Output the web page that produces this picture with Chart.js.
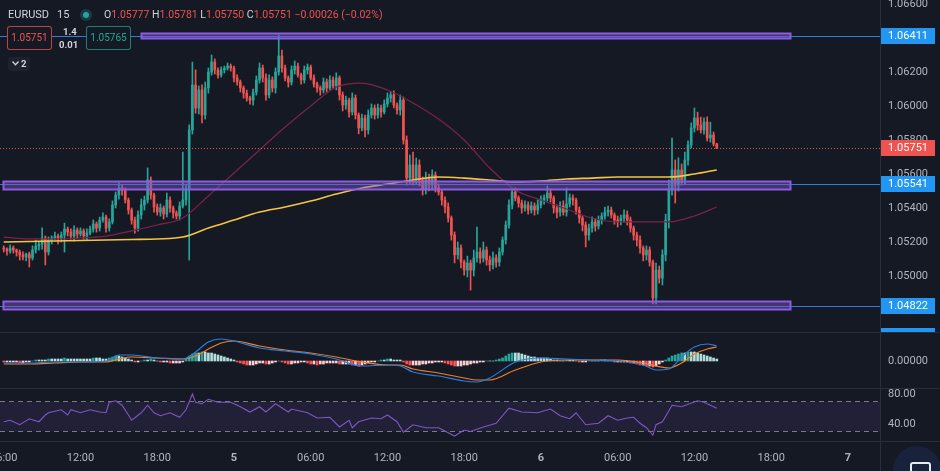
<!DOCTYPE html>
<html>
<head>
<meta charset="utf-8">
<script src="https://cdn.jsdelivr.net/npm/chart.js@4.4.1/dist/chart.umd.min.js"></script>
<style>
  html, body { margin:0; padding:0; background:#151924; }
  body { width:940px; height:471px; position:relative; overflow:hidden; font-family: Roboto, "Liberation Sans", "DejaVu Sans", sans-serif; }
  canvas { position:absolute; left:0; }
  .hl { position:absolute; left:0; width:940px; height:1px; background:#2a2e39; z-index:3; }
  .vl { position:absolute; left:880px; top:0; width:1px; height:471px; background:#2a2e39; z-index:3; }
  .t { position:absolute; font-size:10.5px; color:#d1d4dc; white-space:nowrap; line-height:14px; z-index:5; }
  .g { color:#d1d4dc; }
  .r { color:#ef5350; }
  .box { position:absolute; z-index:5; box-sizing:border-box; border-radius:3px; font-size:10px; text-align:center; line-height:21px; background:#151924; }
</style>
</head>
<body>
<canvas id="cMain" width="940" height="332" style="top:0"></canvas>
<canvas id="cMacd" width="940" height="55" style="top:333px"></canvas>
<canvas id="cRsi" width="940" height="83" style="top:388px"></canvas>

<div class="hl" style="top:332px"></div>
<div class="hl" style="top:388px"></div>
<div class="hl" style="top:441px"></div>
<div class="vl"></div>

<span class="t" style="left:8px;top:8px;font-size:11px">EURUSD</span>
<span class="t" style="left:57px;top:8px;font-size:11px">15</span>
<span style="position:absolute;left:80px;top:9px;width:12px;height:12px;border-radius:50%;background:rgba(38,166,154,0.25);z-index:5"></span>
<span style="position:absolute;left:83px;top:12px;width:6px;height:6px;border-radius:50%;background:#26a69a;z-index:6"></span>
<span class="t" style="left:104px;top:8px"><span class="g">O</span><span class="r">1.05777</span>&nbsp;<span class="g">H</span><span class="r">1.05781</span>&nbsp;<span class="g">L</span><span class="r">1.05750</span>&nbsp;<span class="g">C</span><span class="r">1.05751</span>&nbsp;<span class="r">−0.00026 (−0.02%)</span></span>

<div class="box" style="left:7px;top:26px;width:45px;height:24px;border:1px solid rgba(239,83,80,0.75);color:#ef5350">1.05751</div>
<span class="t" style="left:63px;top:25px;font-size:9.5px;font-weight:bold">1.4</span>
<span class="t" style="left:59px;top:38px;font-size:9.5px;font-weight:bold">0.01</span>
<div class="box" style="left:86px;top:26px;width:45px;height:24px;border:1px solid rgba(38,166,154,0.7);color:#26a69a">1.05765</div>
<div class="box" style="left:8px;top:57px;width:22px;height:14px;line-height:14px;background:#1e222d;color:#d1d4dc;font-weight:bold;font-size:9.5px">
  <svg width="7" height="5" viewBox="0 0 7 5" style="vertical-align:1px"><polyline points="0.5,0.5 3.5,3.8 6.5,0.5" fill="none" stroke="#d1d4dc" stroke-width="1.3"/></svg> 2
</div>

<div style="position:absolute;left:893px;top:446px;width:48px;height:48px;border-radius:50%;background:#18223a;z-index:6"></div>
<div style="position:absolute;left:910px;top:462px;width:17px;height:17px;border:2px solid #e8eaf0;border-radius:3px;z-index:7"></div>

<script>
// ---------------- DATA ----------------
// 15-minute candles, first candle at 06:00 of day 4 (hours counted from day 4 00:00)
const candleStartHour = 6;
const candleStepHour = 0.25;
const firstOpen = 1.05165;
const closes = [
  1.05159,1.05147,1.05165,1.05153,1.05141,1.05124,1.05112,1.05129,1.05106,1.05153,
  1.05176,1.05188,1.05224,1.05141,1.05212,1.05224,1.05235,1.05218,1.05241,1.05276,
  1.05259,1.05235,1.05271,1.05247,1.05265,1.05235,1.05253,1.05276,1.05306,1.05282,
  1.05329,1.05347,1.05282,1.05318,1.05418,1.05476,1.05518,1.05506,1.05447,1.05388,
  1.05329,1.05282,1.05359,1.05418,1.05447,1.05565,1.05476,1.05406,1.05376,1.05400,
  1.05365,1.05447,1.05400,1.05371,1.05353,1.05412,1.05447,1.05506,1.05859,1.06123,
  1.05988,1.06094,1.05947,1.06106,1.06200,1.06259,1.06212,1.06182,1.06212,1.06223,
  1.06235,1.06223,1.06165,1.06141,1.06106,1.06076,1.06047,1.06035,1.06082,1.06153,
  1.06223,1.06165,1.06065,1.06153,1.06106,1.06200,1.06294,1.06223,1.06165,1.06141,
  1.06212,1.06235,1.06182,1.06153,1.06212,1.06229,1.06165,1.06129,1.06106,1.06094,
  1.06141,1.06106,1.06153,1.06118,1.06165,1.06065,1.06006,1.06035,1.05965,1.06047,
  1.05947,1.05871,1.05929,1.05859,1.05947,1.05988,1.05947,1.05988,1.05965,1.06012,
  1.06047,1.06065,1.06006,1.05976,1.06035,1.05800,1.05576,1.05653,1.05565,1.05653,
  1.05565,1.05506,1.05576,1.05535,1.05594,1.05518,1.05494,1.05447,1.05406,1.05341,
  1.05241,1.05124,1.05165,1.05082,1.05035,1.05076,1.05035,1.05106,1.05141,1.05106,
  1.05153,1.05094,1.05065,1.05106,1.05082,1.05141,1.05212,1.05300,1.05418,1.05494,
  1.05459,1.05429,1.05400,1.05418,1.05388,1.05412,1.05388,1.05418,1.05447,1.05459,
  1.05488,1.05459,1.05400,1.05376,1.05412,1.05376,1.05424,1.05459,1.05447,1.05388,
  1.05341,1.05300,1.05241,1.05282,1.05318,1.05294,1.05329,1.05353,1.05376,1.05388,
  1.05359,1.05329,1.05318,1.05341,1.05359,1.05329,1.05282,1.05241,1.05212,1.05165,
  1.05124,1.05153,1.05082,1.04871,1.05035,1.04988,1.05124,1.05329,1.05506,1.05624,
  1.05535,1.05624,1.05565,1.05682,1.05771,1.05871,1.05929,1.05888,1.05859,1.05906,
  1.05812,1.05829,1.05777,1.05751
];
// wick lengths above the body / below the body (price units)
const wickUp = [
  .00012,.00006,.00018,.00012,.00006,.00012,.00018,.00006,.00012,.00024,
  .00035,.00018,.00059,.00012,.00018,.00012,.00024,.00012,.00018,.00035,
  .00012,.00018,.00024,.00012,.00018,.00012,.00024,.00018,.00024,.00012,
  .00018,.00024,.00012,.00018,.00024,.00018,.00030,.00018,.00012,.00012,
  .00012,.00018,.00024,.00035,.00024,.00071,.00018,.00012,.00018,.00024,
  .00012,.00041,.00018,.00012,.00012,.00024,.00282,.00035,.00030,.00135,
  .00090,.00024,.00030,.00035,.00024,.00041,.00018,.00012,.00018,.00012,
  .00018,.00012,.00012,.00018,.00012,.00012,.00018,.00012,.00018,.00024,
  .00030,.00018,.00024,.00030,.00018,.00024,.00124,.00035,.00018,.00012,
  .00024,.00030,.00018,.00012,.00024,.00018,.00012,.00018,.00012,.00012,
  .00024,.00018,.00024,.00018,.00030,.00012,.00018,.00024,.00012,.00030,
  .00018,.00012,.00024,.00018,.00030,.00024,.00018,.00024,.00018,.00024,
  .00030,.00018,.00024,.00012,.00030,.00018,.00024,.00059,.00076,.00041,
  .00030,.00018,.00035,.00024,.00030,.00018,.00024,.00012,.00018,.00024,
  .00012,.00018,.00035,.00018,.00012,.00041,.00018,.00047,.00147,.00024,
  .00047,.00018,.00024,.00035,.00018,.00024,.00018,.00024,.00030,.00018,
  .00024,.00012,.00018,.00024,.00018,.00024,.00018,.00030,.00024,.00018,
  .00041,.00024,.00012,.00018,.00024,.00030,.00094,.00024,.00018,.00012,
  .00018,.00012,.00018,.00024,.00030,.00018,.00024,.00018,.00030,.00024,
  .00018,.00012,.00024,.00018,.00030,.00024,.00018,.00012,.00018,.00024,
  .00012,.00024,.00018,.00012,.00041,.00024,.00030,.00035,.00059,.00188,
  .00059,.00071,.00035,.00047,.00024,.00030,.00059,.00035,.00047,.00024,
  .00030,.00076,.00018,.00004
];
const wickDn = [
  .00018,.00024,.00012,.00018,.00024,.00030,.00018,.00024,.00053,.00012,
  .00018,.00024,.00030,.00076,.00018,.00024,.00012,.00030,.00018,.00100,
  .00024,.00018,.00030,.00024,.00012,.00018,.00024,.00012,.00018,.00024,
  .00018,.00012,.00024,.00018,.00012,.00018,.00024,.00030,.00018,.00024,
  .00024,.00030,.00018,.00024,.00030,.00018,.00024,.00030,.00018,.00024,
  .00030,.00018,.00024,.00030,.00018,.00024,.00012,.00030,.00412,.00024,
  .00030,.00035,.00047,.00024,.00030,.00018,.00024,.00018,.00012,.00018,
  .00012,.00018,.00024,.00018,.00024,.00030,.00018,.00024,.00030,.00018,
  .00018,.00024,.00030,.00018,.00024,.00030,.00018,.00024,.00018,.00030,
  .00018,.00024,.00012,.00024,.00018,.00024,.00012,.00018,.00024,.00030,
  .00018,.00024,.00012,.00018,.00024,.00030,.00035,.00024,.00030,.00018,
  .00024,.00035,.00018,.00041,.00024,.00018,.00024,.00018,.00030,.00012,
  .00018,.00024,.00018,.00024,.00030,.00024,.00041,.00035,.00030,.00024,
  .00035,.00030,.00024,.00035,.00030,.00024,.00018,.00030,.00035,.00024,
  .00030,.00047,.00024,.00035,.00030,.00041,.00118,.00035,.00024,.00030,
  .00024,.00030,.00035,.00024,.00030,.00024,.00018,.00024,.00018,.00024,
  .00018,.00024,.00030,.00018,.00024,.00018,.00030,.00024,.00018,.00024,
  .00018,.00024,.00030,.00035,.00024,.00018,.00024,.00018,.00030,.00024,
  .00030,.00035,.00070,.00030,.00024,.00030,.00018,.00024,.00018,.00024,
  .00018,.00024,.00030,.00018,.00024,.00030,.00024,.00030,.00035,.00030,
  .00035,.00030,.00024,.00035,.00035,.00030,.00041,.00035,.00047,.00030,
  .00106,.00035,.00030,.00024,.00030,.00018,.00024,.00030,.00018,.00024,
  .00018,.00024,.00012,.00001
];

// Moving averages (read at 2-hour steps)
const maTimes = [6,8,10,12,14,16,18,20,22,24,26,28,30,32,34,36,38,40,42,44,46,48,50,52,54,56,58,60,61.75];
const maSlow = [1.05200,1.05203,1.05206,1.05209,1.05212,1.05215,1.05218,1.05229,1.05282,1.05329,1.05376,1.05406,1.05441,1.05482,1.05518,1.05541,1.05565,1.05582,1.05576,1.05565,1.05553,1.05559,1.05571,1.05576,1.05582,1.05582,1.05582,1.05600,1.05624];
const maFast = [1.05229,1.05218,1.05218,1.05224,1.05235,1.05265,1.05300,1.05341,1.05471,1.05606,1.05741,1.05876,1.06000,1.06112,1.06135,1.06094,1.06018,1.05923,1.05800,1.05635,1.05506,1.05447,1.05394,1.05341,1.05318,1.05318,1.05318,1.05353,1.05406];

// Horizontal zones and levels
const zoneTop    = [1.06428, 1.05559, 1.04853];
const zoneBottom = [1.06399, 1.05512, 1.04806];
const zoneStart  = [16.75, 5.95, 5.95];
const zoneEnd    = [67.5, 67.5, 67.5];
const levelPrices = [1.06411, 1.05541, 1.04822];
const lastPrice = 1.05751;

// Axis ticks
const priceTicks = [1.048,1.050,1.052,1.054,1.056,1.058,1.060,1.062,1.064,1.066];
const timeTicks = [6,12,18,24,30,36,42,48,54,60,66,72];
const rsiTicks = [40, 80];
const macdTicks = [0];

// MACD
const macdTimes = [6,8,10,12,14,15,16,18,20,21,22,23,24,26,28,30,32,34,36,37,38,40,42,43,44,46,48,50,52,54,56,57,58,59,60,61,61.75];
const macdLine = [-0.00008,-0.00008,-0.00004,-0.00004,0,0.00024,0.00024,0.00012,0.00008,0.00036,0.00076,0.00088,0.00080,0.00052,0.00040,0.00028,0.00008,-0.00020,-0.00016,-0.00020,-0.00044,-0.00060,-0.00080,-0.00084,-0.00068,-0.00004,0.00012,0.00008,0.00004,0,-0.00016,-0.00036,-0.00032,0.00016,0.00056,0.00068,0.00060];
const signalLine = [-0.00012,-0.00012,-0.00008,-0.00004,-0.00004,0.00008,0.00016,0.00012,0.00008,0.00020,0.00048,0.00072,0.00080,0.00060,0.00044,0.00032,0.00016,-0.00004,-0.00016,-0.00016,-0.00032,-0.00048,-0.00068,-0.00076,-0.00076,-0.00036,-0.00004,0.00004,0.00004,0.00004,-0.00008,-0.00020,-0.00028,-0.00008,0.00028,0.00048,0.00056];
const macdHist = [
  -0.00004,-0.00004,-0.00004,-0.00004,-0.00004,-0.00008,-0.00008,-0.00004,-0.00004,0,0.00004,0.00004,0.00004,0.00004,
  0.00008,0.00008,0.00008,0.00008,0.00008,0.00012,0.00008,0.00008,0.00008,0.00008,0.00008,0.00008,0.00008,0.00008,0.00012,0.00012,0.00012,0.00008,0.00008,0.00012,
  0.00016,0.0002,0.0002,0.00016,0.00012,0.00008,0.00004,
  -0.00004,-0.00004,0,0.00004,0.00004,0.00008,0.00004,0,-0.00004,-0.00004,-0.00004,-0.00008,-0.00008,-0.00008,-0.00008,-0.00004,
  0.00008,0.0002,0.00028,0.00032,0.00032,0.00036,0.00036,0.00032,0.00032,0.00028,0.00024,0.0002,0.00016,0.00012,0.00008,0.00004,
  -0.00004,-0.00008,-0.00012,-0.00016,-0.00016,-0.00016,-0.00012,-0.00008,-0.00008,-0.00012,
  -0.00012,-0.00008,-0.00004,0,-0.00004,-0.00008,-0.00012,-0.00012,-0.00008,-0.00008,
  -0.00004,-0.00004,-0.00008,-0.00012,-0.00012,-0.00016,-0.00012,-0.00012,-0.00008,-0.00008,
  -0.00008,-0.00008,-0.00012,-0.00012,
  -0.00012,-0.00012,-0.00016,-0.00016,-0.0002,-0.00016,-0.00012,-0.00008,-0.00004,-0.00004,0,0.00004,0.00004,0.00008,0.00008,0.00004,0.00004,
  0.00004,-0.00004,-0.00012,-0.00016,-0.00016,-0.00016,-0.00016,-0.00012,-0.00012,-0.00008,-0.00008,-0.00004,-0.00004,-0.00004,
  -0.00008,-0.00012,-0.00016,-0.0002,-0.0002,-0.0002,-0.00016,-0.00016,-0.00012,-0.00008,
  -0.00008,-0.00004,-0.00004,0,0,0,0.00004,0.00008,
  0.00012,0.0002,0.00028,0.00032,0.00032,0.00032,0.00028,0.00024,0.0002,0.00016,0.00016,0.00012,0.00012,0.00012,0.00012,
  0.00008,0.00004,0.00004,0,0,0.00004,0.00004,0.00004,0,-0.00004,-0.00004,-0.00004,0,0,0,0,0.00004,0.00004,0,0,
  -0.00004,-0.00004,-0.00004,-0.00004,-0.00004,-0.00008,-0.00008,-0.00012,-0.00016,-0.00016,-0.0002,-0.0002,-0.00024,-0.0002,-0.00012,
  -0.00004,0.00004,0.00012,0.0002,0.00024,0.00028,0.00032,0.00032,0.00036,0.00036,0.00036,0.00032,0.00028,0.00024,0.0002,0.00016,0.00012,0.00008
];

// RSI
const rsiTimes = [6,6.5,7.25,8,8.75,9.25,9.5,10.5,11,11.25,12,12.75,13.5,14,14.25,14.75,15.25,15.75,16,16.75,17.25,17.75,18.25,19,19.75,20.25,20.75,21,21.5,22,22.75,23.75,24.5,25.25,26,26.5,27.25,28.25,28.5,29.75,30.5,31.5,32.25,33,33.25,33.75,34.75,35.5,36,36.75,37.25,38,39,40,41.25,42,42.5,43.5,44.5,45.5,46.5,47.75,48.75,49.5,50.25,50.75,51.5,52.5,53.25,54,54.75,55.25,55.75,56.25,56.75,57,57.5,58.25,59,60.25,60.75,61.75];
const rsiValues = [43,45,39,47,43,52,55,59,52,59,55,59,56,55,69,71,65,52,45,55,65,55,51,55,49,59,80,69,67,73,69,69,63,56,63,56,67,56,60,55,48,49,36,45,35,43,48,47,52,43,29,39,35,35,24,32,30,36,41,61,56,55,60,51,47,55,39,41,51,45,48,49,41,35,25,39,43,65,63,71,69,61];
const rsiUpper = 70, rsiLower = 30;

// ---------------- LAYOUT CONSTANTS ----------------
const X_MIN = 5.7076, X_MAX = 74.511;
const P_MIN = 1.046706, P_MAX = 1.066235;
const UP = '#26a69a', DOWN = '#ef5350';
const AXIS_TXT = '#b2b5be';

Chart.defaults.font.family = 'Roboto, "Liberation Sans", sans-serif';
Chart.defaults.animation = false;

const opens = closes.map((c, i) => i === 0 ? firstOpen : closes[i - 1]);
const times = closes.map((c, i) => candleStartHour + i * candleStepHour);
const highs = closes.map((c, i) => Math.max(opens[i], c) + wickUp[i]);
const lows = closes.map((c, i) => Math.min(opens[i], c) - wickDn[i]);
const candleColors = closes.map((c, i) => c >= opens[i] ? UP : DOWN);

const rightAxisFit = s => { s.width = 60; s.paddingTop = 0; s.paddingBottom = 0; s.paddingLeft = 0; s.paddingRight = 0; };
const baseX = { type:'linear', min:X_MIN, max:X_MAX, display:false, offset:false, grid:{display:false} };
const commonOpts = {
  responsive:false, maintainAspectRatio:false, animation:false, events:[],
  layout:{ padding:0, autoPadding:false },
  plugins:{ legend:{display:false}, tooltip:{enabled:false} }
};
const axisTicks = (cb) => ({ color:AXIS_TXT, font:{size:11}, padding:8, autoSkip:false, callback:cb });

// ---------- MAIN PRICE CHART ----------
const mainOverlay = {
  id:'mainOverlay',
  afterDatasetsDraw(chart) {
    const { ctx, chartArea:a, scales:{ x, y } } = chart;
    ctx.save();
    ctx.beginPath(); ctx.rect(a.left, a.top, a.right - a.left, a.bottom - a.top); ctx.clip();
    ctx.lineWidth = 1; ctx.strokeStyle = '#2f7de1';
    levelPrices.forEach(p => {
      const yy = Math.round(y.getPixelForValue(p)) + 0.5;
      ctx.beginPath(); ctx.moveTo(a.left, yy); ctx.lineTo(a.right, yy); ctx.stroke();
    });
    zoneTop.forEach((top, k) => {
      const x1 = Math.round(x.getPixelForValue(zoneStart[k])) + 0.5;
      const x2 = Math.round(x.getPixelForValue(zoneEnd[k])) + 0.5;
      const y1 = Math.round(y.getPixelForValue(top)) + 0.5;
      const y2 = Math.round(y.getPixelForValue(zoneBottom[k])) + 0.5;
      ctx.fillStyle = 'rgba(126,87,194,0.45)';
      ctx.fillRect(x1, y1, x2 - x1, y2 - y1);
      ctx.strokeStyle = '#8c5ce6'; ctx.lineWidth = 2;
      ctx.strokeRect(x1, y1, x2 - x1, y2 - y1);
    });
    const ly = Math.round(y.getPixelForValue(lastPrice)) + 0.5;
    ctx.setLineDash([1, 2]); ctx.strokeStyle = '#ef5350'; ctx.lineWidth = 1;
    ctx.beginPath(); ctx.moveTo(a.left, ly); ctx.lineTo(a.right, ly); ctx.stroke();
    ctx.restore();
  },
  afterDraw(chart) {
    const { ctx, chartArea:a, scales:{ y } } = chart;
    ctx.save();
    ctx.font = '11px Roboto, "Liberation Sans", sans-serif';
    ctx.textBaseline = 'middle';
    const tag = (p, bg) => {
      const yy = Math.round(y.getPixelForValue(p));
      ctx.fillStyle = bg; ctx.fillRect(a.right + 1, yy - 8, 54, 16);
      ctx.fillStyle = '#ffffff'; ctx.fillText(p.toFixed(5), a.right + 8, yy + 0.5);
    };
    levelPrices.forEach(p => tag(p, '#2196f3'));
    tag(lastPrice, '#ef5350');
    ctx.fillStyle = '#2196f3'; ctx.fillRect(a.right + 1, 328, 54, 4);
    ctx.restore();
  }
};

new Chart(document.getElementById('cMain'), {
  type:'bar',
  data:{ datasets:[
    { type:'line', data: maTimes.map((t, i) => ({ x:t, y:maSlow[i] })), borderColor:'#f5c542', borderWidth:1.6, pointRadius:0, cubicInterpolationMode:'monotone', order:0 },
    { type:'line', data: maTimes.map((t, i) => ({ x:t, y:maFast[i] })), borderColor:'#7c2346', borderWidth:1.2, pointRadius:0, cubicInterpolationMode:'monotone', order:1 },
    { data: times.map((t, i) => ({ x:t, y:[opens[i], closes[i]] })), backgroundColor:candleColors, barThickness:2, grouped:false, minBarLength:1, borderWidth:0, order:2 },
    { data: times.map((t, i) => ({ x:t, y:[lows[i], highs[i]] })), backgroundColor:candleColors, barThickness:1, grouped:false, borderWidth:0, order:3 }
  ]},
  options:{ ...commonOpts,
    scales:{
      x: baseX,
      y: { type:'linear', position:'right', min:P_MIN, max:P_MAX, beginAtZero:false,
           grid:{display:false, drawTicks:false}, border:{display:false},
           ticks: axisTicks(v => v.toFixed(5)),
           afterBuildTicks: s => { s.ticks = priceTicks.map(v => ({ value:v })); },
           afterFit: rightAxisFit }
    }
  },
  plugins:[mainOverlay]
});

// ---------- MACD ----------
const histColors = macdHist.map((v, i) => {
  const prev = i === 0 ? 0 : macdHist[i - 1];
  if (v >= 0) return v > prev ? '#26a69a' : '#b2dfdb';
  return v < prev ? '#ff5252' : '#ffcdd2';
});
new Chart(document.getElementById('cMacd'), {
  type:'bar',
  data:{ datasets:[
    { type:'line', data: macdTimes.map((t, i) => ({ x:t, y:macdLine[i] })), borderColor:'#2a7de1', borderWidth:1.2, pointRadius:0, cubicInterpolationMode:'monotone', order:0 },
    { type:'line', data: macdTimes.map((t, i) => ({ x:t, y:signalLine[i] })), borderColor:'#f08028', borderWidth:1.2, pointRadius:0, cubicInterpolationMode:'monotone', order:1 },
    { data: times.map((t, i) => ({ x:t, y:macdHist[i] })), backgroundColor:histColors, barThickness:2, grouped:false, borderWidth:0, order:2 }
  ]},
  options:{ ...commonOpts,
    scales:{
      x: baseX,
      y: { type:'linear', position:'right', min:-0.00108, max:0.00112, beginAtZero:false,
           grid:{display:false, drawTicks:false}, border:{display:false},
           ticks: axisTicks(v => v.toFixed(5)),
           afterBuildTicks: s => { s.ticks = macdTicks.map(v => ({ value:v })); },
           afterFit: rightAxisFit }
    }
  }
});

// ---------- RSI + time axis ----------
const rsiBand = {
  id:'rsiBand',
  beforeDatasetsDraw(chart) {
    const { ctx, chartArea:a, scales:{ y } } = chart;
    const y1 = y.getPixelForValue(rsiUpper), y2 = y.getPixelForValue(rsiLower);
    ctx.save();
    ctx.fillStyle = 'rgba(126,87,194,0.12)';
    ctx.fillRect(a.left, y1, a.right - a.left, y2 - y1);
    ctx.setLineDash([5, 4]); ctx.strokeStyle = '#787b86'; ctx.lineWidth = 1;
    [y1, y2].forEach(v => { const yy = Math.round(v) + 0.5; ctx.beginPath(); ctx.moveTo(a.left, yy); ctx.lineTo(a.right, yy); ctx.stroke(); });
    ctx.restore();
  }
};
const pad2 = n => (n < 10 ? '0' : '') + n;
new Chart(document.getElementById('cRsi'), {
  type:'line',
  data:{ datasets:[
    { data: rsiTimes.map((t, i) => ({ x:t, y:rsiValues[i] })), borderColor:'#7e57c2', borderWidth:1.1, pointRadius:0, tension:0 }
  ]},
  options:{ ...commonOpts,
    scales:{
      x: { type:'linear', position:'bottom', min:X_MIN, max:X_MAX, offset:false,
           grid:{display:false, drawTicks:false}, border:{display:false},
           ticks:{ color:AXIS_TXT, padding:11, autoSkip:false, maxRotation:0,
                   font: c => ({ size:11, weight: (c.tick && c.tick.value % 24 === 0) ? 'bold' : 'normal' }),
                   callback: v => (v % 24 === 0) ? String(4 + v / 24) : pad2(v % 24) + ':00' },
           afterBuildTicks: s => { s.ticks = timeTicks.map(v => ({ value:v })); },
           afterFit: s => { s.height = 30; s.paddingLeft = 0; s.paddingRight = 0; s.paddingTop = 0; s.paddingBottom = 0; } },
      y: { type:'linear', position:'right', min:17.33, max:88, beginAtZero:false,
           grid:{display:false, drawTicks:false}, border:{display:false},
           ticks: axisTicks(v => v.toFixed(2)),
           afterBuildTicks: s => { s.ticks = rsiTicks.map(v => ({ value:v })); },
           afterFit: rightAxisFit }
    }
  },
  plugins:[rsiBand]
});
</script>
</body>
</html>
